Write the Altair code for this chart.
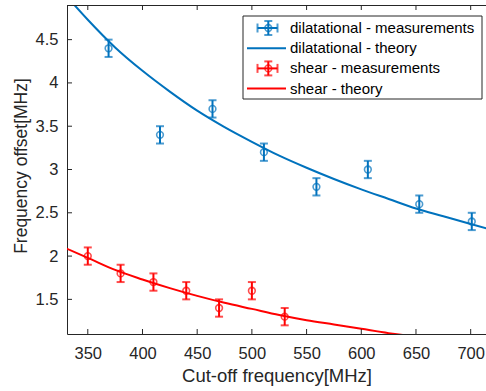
import altair as alt
import pandas as pd

# Measured frequency offsets (MHz) against cut-off frequency (MHz)
dil_cutoff = [369, 416, 464, 511, 559, 606, 653, 701]
dil_offset = [4.4, 3.4, 3.7, 3.2, 2.8, 3.0, 2.6, 2.4]
shear_cutoff = [350, 380, 410, 440, 470, 500, 530]
shear_offset = [2.0, 1.8, 1.7, 1.6, 1.4, 1.6, 1.3]
meas_err = 0.1

# Theory curves
dil_theory_x = [330, 350, 375, 400, 425, 450, 475, 500, 525, 550, 575, 600, 625, 650, 675, 700, 720]
dil_theory_y = [5.01, 4.73, 4.41, 4.14, 3.90, 3.68, 3.49, 3.32, 3.16, 3.02, 2.89, 2.77, 2.66, 2.55, 2.46, 2.37, 2.30]
shear_theory_x = [330, 350, 375, 400, 425, 450, 475, 500, 525, 550, 575, 600, 625, 650]
shear_theory_y = [2.09, 1.98, 1.84, 1.73, 1.63, 1.54, 1.46, 1.39, 1.32, 1.26, 1.21, 1.16, 1.11, 1.07]

x_ticks = [350, 400, 450, 500, 550, 600, 650, 700]
y_ticks = [1.5, 2, 2.5, 3, 3.5, 4, 4.5]

legend_labels = ["dilatational - measurements", "dilatational - theory",
                 "shear - measurements", "shear - theory"]

BLUE = "#0072BD"
RED = "#FF0000"
INK = "#262626"
W, H = 419, 329
X_TITLE = "Cut-off frequency[MHz]"
Y_TITLE = "Frequency offset[MHz]"

meas = pd.concat([
    pd.DataFrame({"f": dil_cutoff, "v": dil_offset, "c": BLUE}),
    pd.DataFrame({"f": shear_cutoff, "v": shear_offset, "c": RED}),
])
meas["lo"] = meas["v"] - meas_err
meas["hi"] = meas["v"] + meas_err

theory = pd.concat([
    pd.DataFrame({"f": dil_theory_x, "v": dil_theory_y, "c": BLUE, "s": "dil"}),
    pd.DataFrame({"f": shear_theory_x, "v": shear_theory_y, "c": RED, "s": "shear"}),
])

xs = alt.Scale(domain=[331, 714], nice=False, zero=False)
ys = alt.Scale(domain=[1.1, 4.9], nice=False, zero=False)
x_axis = alt.Axis(values=x_ticks, labelPadding=11, titleX=W / 2, titleY=47.5,
                  titleBaseline="alphabetic", titleFontSize=18.5)
y_axis = alt.Axis(values=y_ticks, format="~g", labelPadding=9, titleX=-45.5,
                  titleY=160.5, titleAngle=-90, titleBaseline="middle", titleAlign="center",
                  titleFontSize=17.5)


def xq(field):
    return alt.X(field, scale=xs, axis=x_axis, title=X_TITLE)


def yq(field):
    return alt.Y(field, scale=ys, axis=y_axis, title=Y_TITLE)


col = alt.Color("c:N", scale=None)

lines = alt.Chart(theory).mark_line(clip=True, strokeWidth=2, interpolate="monotone").encode(
    x=xq("f:Q"), y=yq("v:Q"), color=col, detail="s:N")

base = alt.Chart(meas)
bars = base.mark_rule(strokeWidth=2).encode(x=xq("f:Q"), y=yq("lo:Q"), y2="hi:Q", color=col)
cap_lo = base.mark_tick(orient="horizontal", size=8, thickness=2).encode(
    x=xq("f:Q"), y=yq("lo:Q"), color=col)
cap_hi = base.mark_tick(orient="horizontal", size=8, thickness=2).encode(
    x=xq("f:Q"), y=yq("hi:Q"), color=col)
dots = base.mark_point(shape="circle", filled=False, size=45, strokeWidth=1.6).encode(
    x=xq("f:Q"), y=yq("v:Q"), color=col)

# Inward ticks and the top frame line
xt = pd.DataFrame({"f": x_ticks})
yt = pd.DataFrame({"v": y_ticks})
tick_bottom = alt.Chart(xt).mark_rule(color=INK, strokeWidth=1).encode(
    x=xq("f:Q"), y=alt.value(H), y2=alt.value(H - 5))
tick_top = alt.Chart(xt).mark_rule(color=INK, strokeWidth=1).encode(
    x=xq("f:Q"), y=alt.value(0), y2=alt.value(5))
tick_left = alt.Chart(yt).mark_rule(color=INK, strokeWidth=1).encode(
    y=yq("v:Q"), x=alt.value(0), x2=alt.value(5))
top_line = alt.Chart(xt.head(1)).mark_rule(color=INK, strokeWidth=1).encode(
    x=alt.value(0), x2=alt.value(W), y=alt.value(0.5))

# Legend box
row0, row_gap = 23, 20.2
leg = pd.DataFrame({
    "label": legend_labels,
    "c": [BLUE, BLUE, RED, RED],
    "kind": ["m", "l", "m", "l"],
})
leg["py"] = [row0 + i * row_gap for i in range(len(leg))]
leg_m = leg[leg["kind"] == "m"]
leg_l = leg[leg["kind"] == "l"]
py = alt.Y("py:Q", scale=None, axis=None)

box = alt.Chart(leg.head(1)).mark_rect(fill="white", stroke=INK, strokeWidth=1).encode(
    x=alt.value(176), x2=alt.value(415), y=alt.value(11), y2=alt.value(94))
leg_text = alt.Chart(leg).mark_text(align="left", baseline="middle", fontSize=15,
                                    color="black", font="Liberation Sans").encode(
    x=alt.value(223), y=py, text="label:N")
leg_line = alt.Chart(leg_l).mark_rule(strokeWidth=2).encode(
    x=alt.value(180), x2=alt.value(219), y=py, color=col)
leg_hbar = alt.Chart(leg_m).mark_rule(strokeWidth=2).encode(
    x=alt.value(190.5), x2=alt.value(210.5), y=py, color=col)
leg_m2 = alt.Chart(leg_m).transform_calculate(
    y0="datum.py - 7", y1="datum.py + 7", xl="190.5", xr="210.5", xc="201.3")
leg_vbar = leg_m2.mark_rule(strokeWidth=2).encode(
    x=alt.value(201.3), y=alt.Y("y0:Q", scale=None, axis=None), y2="y1:Q", color=col)
leg_vcap_t = leg_m2.mark_tick(orient="horizontal", size=8, thickness=2).encode(
    x=alt.X("xc:Q", scale=None, axis=None), y=alt.Y("y0:Q", scale=None, axis=None), color=col)
leg_vcap_b = leg_m2.mark_tick(orient="horizontal", size=8, thickness=2).encode(
    x=alt.X("xc:Q", scale=None, axis=None), y=alt.Y("y1:Q", scale=None, axis=None), color=col)
leg_hcap_l = leg_m2.mark_tick(orient="vertical", size=9, thickness=2).encode(
    x=alt.X("xl:Q", scale=None, axis=None), y=py, color=col)
leg_hcap_r = leg_m2.mark_tick(orient="vertical", size=9, thickness=2).encode(
    x=alt.X("xr:Q", scale=None, axis=None), y=py, color=col)
leg_dot = alt.Chart(leg_m).mark_point(shape="circle", filled=False, size=45, strokeWidth=1.6).encode(
    x=alt.value(201.3), y=py, color=col)

chart = alt.layer(
    lines, bars, cap_lo, cap_hi, dots,
    tick_bottom, tick_top, tick_left, top_line,
    box, leg_line, leg_hbar, leg_vbar, leg_vcap_t, leg_vcap_b, leg_hcap_l, leg_hcap_r,
    leg_dot, leg_text,
).properties(
    width=W, height=H,
    autosize=alt.AutoSizeParams(type="none"),
    padding={"left": 67, "top": 5, "right": 0, "bottom": 57},
).configure(
    font="Liberation Sans", background="white",
).configure_view(
    stroke=None,
).configure_axis(
    grid=False, ticks=False, tickSize=0,
    labelFont="Liberation Sans", labelFontSize=16.5, labelColor=INK,
    titleFont="Liberation Sans", titleFontWeight="normal", titleColor=INK,
    domainColor=INK, domainWidth=1,
)

chart.save("out.html", embed_options={"renderer": "svg", "actions": False})
